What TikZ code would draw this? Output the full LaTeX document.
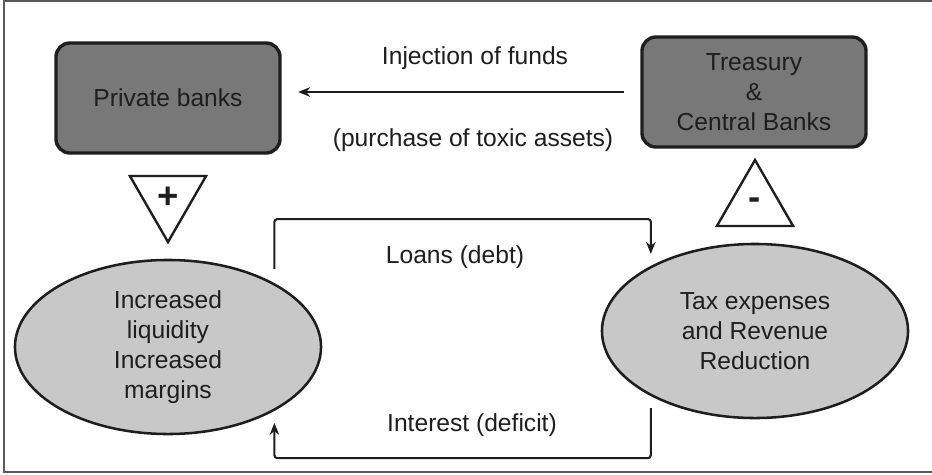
\documentclass[tikz,border=0pt]{standalone}
\usepackage{fontspec}
\setmainfont{Liberation Sans}
\usepackage{tikz}
\usetikzlibrary{shapes.geometric}
\usetikzlibrary{arrows.meta}

\definecolor{ink}{RGB}{30,30,30}
\definecolor{boxgray}{RGB}{120,120,120}
\definecolor{ellgray}{RGB}{200,200,200}
\definecolor{framegray}{RGB}{90,90,90}

\tikzset{
	bankbox/.style={align=center, draw=ink, fill=boxgray, rounded corners=3.5mm, line width=2.4pt, minimum width=5.6cm, minimum height=2.75cm, text=ink},
	effect/.style={align=center, draw=ink, fill=ellgray, ellipse, line width=1.8pt, minimum width=7.65cm, minimum height=4.35cm, inner sep=0pt, text=ink},
	sign/.style={draw=ink, regular polygon, regular polygon sides=3, line width=1.7pt, minimum size=2.2cm, inner sep=0pt, text=ink, font=\fontsize{26}{26}\selectfont\bfseries},
	flow/.style={-{Stealth[length=3mm, width=2.4mm]}, draw=ink, line width=1.5pt, rounded corners=2pt},
	flowlabel/.style={text=ink}
}

\begin{document}
\begin{tikzpicture}[x=0.025cm, y=-0.025cm, font=\fontsize{17.5}{21.4}\selectfont]
		\useasboundingbox (0,0) rectangle (932,474);
		\draw[framegray, line width=1.2pt] (932,1) -- (4,1) -- (4,472) -- (932,472);

		% banks
		\node[bankbox] (priv) at (168,98) {Private banks};
		\node[bankbox] (treas) at (754,92) {Treasury\\ \&\\ Central Banks};

		% signs
		\node[sign, shape border rotate=180] (plus) at (168,198) {+};
		\node[sign] (minus) at (755,204) {-};

		% effects
		\node[effect] (liq) at (168,347) {Increased\\ liquidity\\ Increased\\ margins};
		\node[effect] (tax) at (755,331) {Tax expenses\\ and Revenue\\ Reduction};

		% labels
		\node[flowlabel] (inj) at (475,58) {Injection of funds};
		\node[flowlabel] (toxic) at (473,140) {(purchase of toxic assets)};
		\node[flowlabel] (loans) at (455,257) {Loans (debt)};
		\node[flowlabel] (interest) at (472,425) {Interest (deficit)};

		% flows
		\draw[flow, shorten <=0.41cm, shorten >=0.41cm] (treas.west) -- (treas.west -| priv.east);
		\draw[flow, shorten <=0.35cm, shorten >=0.3cm] (liq.31) -- ++(0,-64) -| (tax.148);
		\draw[flow, shorten <=0.3cm, shorten >=0.3cm] (tax.212) -- ++(0,62) -| (liq.329);

	\end{tikzpicture}
\end{document}
